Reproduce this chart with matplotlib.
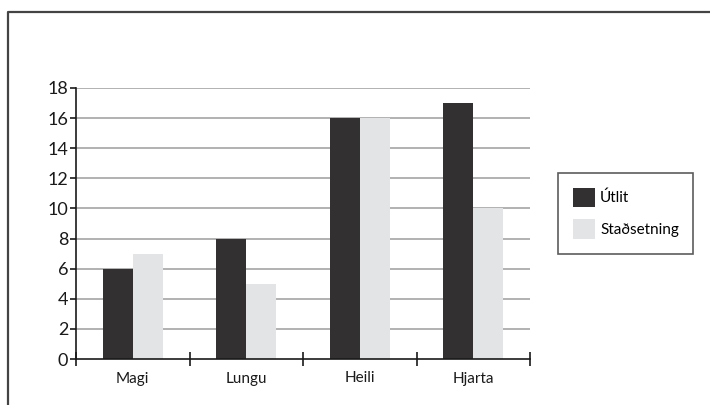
import matplotlib
matplotlib.use("Agg")
import matplotlib.pyplot as plt
from matplotlib.lines import Line2D
from matplotlib.patches import Patch
import numpy as np

categories = ["Magi", "Lungu", "Heili", "Hjarta"]
utlit = [6, 8, 16, 17]
stadsetning = [7, 5, 16, 10]
series_names = ["Útlit", "Staðsetning"]
y_ticks = [0, 2, 4, 6, 8, 10, 12, 14, 16, 18]

dark = "#323031"
light = "#e3e4e6"
grid_col = "#ababab"

plt.rcParams["font.family"] = ["Lato", "DejaVu Sans"]

W, H = 710, 405
fig = plt.figure(figsize=(W / 100, H / 100), dpi=100)
ax = fig.add_axes([76 / W, 1 - 359 / H, (530 - 76) / W, (359 - 88) / H])

x = np.arange(len(categories))
bw = 0.264
ax.bar(x - bw / 2, utlit, width=bw, color=dark, zorder=3)
ax.bar(x + bw / 2, stadsetning, width=bw, color=light, zorder=3)

ax.set_xlim(-0.5, len(categories) - 0.5)
ax.set_ylim(0, 18)

for v in y_ticks[1:]:
    ax.axhline(v, color=grid_col, lw=1.3, zorder=1)

for s in ["top", "right"]:
    ax.spines[s].set_visible(False)
for s in ["left", "bottom"]:
    ax.spines[s].set_color("#1a1a1a")
    ax.spines[s].set_linewidth(1.2)
    ax.spines[s].set_zorder(4)

ax.set_yticks(y_ticks)
ax.set_yticklabels([str(v) for v in y_ticks], fontsize=13, color="#1a1a1a")
ax.tick_params(axis="y", direction="out", length=4, width=1.2, pad=1.5, color="#1a1a1a")

ax.set_xticks(x)
ax.set_xticklabels(categories, fontsize=11, color="#1a1a1a")
ax.tick_params(axis="x", which="major", length=0, pad=9)
ax.set_xticks(np.arange(-0.5, len(categories)), minor=True)
ax.tick_params(axis="x", which="minor", direction="inout", length=10, width=1.2, color="#1a1a1a")

handles = [Patch(facecolor=dark, edgecolor="none"), Patch(facecolor=light, edgecolor="none")]
leg = fig.legend(handles, series_names, loc="upper left",
                 bbox_to_anchor=(558 / W, 1 - 173 / H),
                 fontsize=11, frameon=True, fancybox=False, shadow=False,
                 handlelength=1.5, handleheight=1.6, handletextpad=0.3,
                 labelspacing=0.8, borderpad=0.95, borderaxespad=0)
leg.get_frame().set_edgecolor("#333333")
leg.get_frame().set_linewidth(1.2)

# outer frame along the left and top edges
fig.add_artist(Line2D([7.5 / W, 7.5 / W, 1.0], [0.0, 1 - 11.5 / H, 1 - 11.5 / H],
                      transform=fig.transFigure, color="#444444", lw=1.6))

fig.savefig("out.png", dpi=100)
